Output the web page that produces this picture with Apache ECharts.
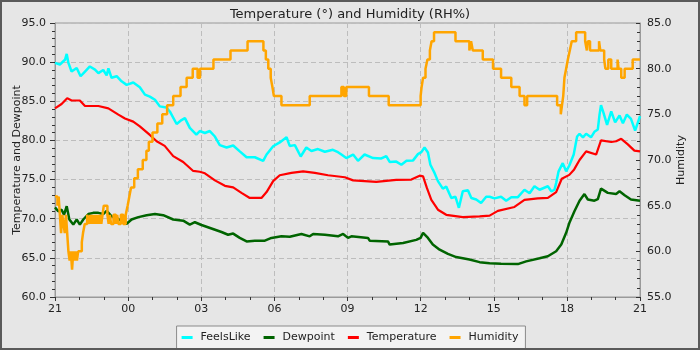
<!DOCTYPE html>
<html>
<head>
<meta charset="utf-8">
<script src="https://cdn.jsdelivr.net/npm/echarts@6/dist/echarts.min.js"></script>
<style>
  html, body { margin: 0; padding: 0; background: #e6e6e6; }
  #chart { position: absolute; left: 0; top: 0; width: 700px; height: 350px; }
  #frame { position: absolute; left: 0; top: 0; width: 700px; height: 350px; box-sizing: border-box; border: 2px solid #5a5a5a; pointer-events: none; }
</style>
</head>
<body>
<div id="chart"></div>
<div id="frame"></div>
<script>
// x values are hours since 21:00
const hourLabels = ['21', '00', '03', '06', '09', '12', '15', '18', '21'];

const feelsLike = [[0,89.9],[0.2,89.7],[0.41,90.3],[0.48,91.05],[0.55,89.9],[0.68,88.8],[0.89,89.25],[1.05,88.2],[1.23,88.8],[1.43,89.45],[1.64,89.05],[1.78,88.6],[1.98,89.0],[2.12,88.3],[2.19,89.2],[2.32,88.0],[2.53,88.2],[2.73,87.55],[2.94,87.1],[3.21,87.4],[3.48,86.8],[3.69,85.85],[3.89,85.6],[4.1,85.2],[4.3,84.35],[4.57,84.2],[4.71,83.7],[4.99,82.1],[5.19,82.6],[5.33,82.85],[5.53,81.6],[5.8,80.75],[5.94,81.2],[6.15,80.95],[6.35,81.2],[6.56,80.5],[6.76,79.4],[7.04,79.1],[7.31,79.35],[7.58,78.6],[7.86,77.85],[8.2,77.85],[8.54,77.4],[8.68,78.2],[8.95,79.25],[9.22,79.75],[9.5,80.4],[9.63,79.3],[9.84,79.4],[10.08,77.95],[10.31,79.1],[10.52,78.65],[10.79,78.9],[11.07,78.55],[11.4,78.8],[11.61,78.5],[11.75,78.2],[11.95,77.75],[12.23,78.2],[12.43,77.4],[12.7,78.2],[13.05,77.75],[13.39,77.7],[13.59,78.0],[13.73,77.25],[14.0,77.3],[14.21,76.9],[14.42,77.4],[14.69,77.45],[14.89,78.25],[15.03,78.5],[15.16,79.1],[15.3,78.45],[15.4,76.9],[15.57,75.85],[15.71,74.8],[15.91,73.85],[16.05,74.1],[16.26,72.65],[16.43,72.8],[16.57,71.4],[16.73,73.5],[16.94,73.65],[17.08,72.65],[17.28,72.45],[17.48,72.0],[17.69,72.8],[17.83,72.8],[18.03,72.6],[18.3,72.8],[18.51,72.3],[18.72,72.75],[18.99,72.75],[19.26,73.7],[19.47,73.25],[19.67,74.15],[19.88,73.7],[20.22,74.15],[20.36,73.5],[20.49,73.7],[20.56,74.55],[20.66,76.05],[20.83,77.1],[20.97,76.05],[21.1,76.8],[21.28,78.2],[21.42,80.5],[21.52,80.85],[21.66,80.4],[21.79,80.85],[21.99,80.4],[22.13,81.1],[22.27,81.4],[22.34,83.3],[22.4,84.5],[22.5,83.55],[22.65,82.0],[22.82,83.7],[22.98,82.3],[23.16,83.2],[23.3,82.2],[23.46,83.3],[23.63,82.75],[23.8,81.25],[24,83.1]];

const dewpoint = [[0,71.45],[0.13,70.95],[0.27,71.15],[0.37,70.5],[0.48,71.6],[0.59,69.9],[0.75,69.25],[0.89,69.9],[1.02,69.25],[1.16,69.9],[1.37,70.6],[1.57,70.75],[1.78,70.75],[1.98,70.6],[2.12,71.0],[2.32,70.3],[2.53,70.1],[2.73,69.7],[2.94,69.35],[3.14,69.9],[3.42,70.2],[3.76,70.45],[4.1,70.6],[4.44,70.45],[4.85,69.9],[5.26,69.75],[5.53,69.25],[5.74,69.55],[6.01,69.2],[6.42,68.75],[6.83,68.3],[7.1,67.95],[7.31,68.1],[7.58,67.55],[7.86,67.1],[8.2,67.2],[8.61,67.2],[8.88,67.55],[9.29,67.75],[9.63,67.7],[10.11,68.05],[10.45,67.75],[10.59,68.05],[11.07,67.95],[11.61,67.75],[11.82,68.05],[12.02,67.55],[12.16,67.75],[12.84,67.55],[12.91,67.2],[13.66,67.1],[13.73,66.7],[14.28,66.9],[14.82,67.3],[15.0,67.55],[15.1,68.2],[15.3,67.55],[15.5,66.7],[15.78,66.05],[16.12,65.5],[16.46,65.1],[17.0,64.8],[17.42,64.45],[17.83,64.3],[18.3,64.25],[18.99,64.2],[19.33,64.55],[19.88,64.95],[20.22,65.2],[20.56,65.85],[20.77,66.7],[20.97,68.2],[21.1,69.45],[21.31,70.95],[21.52,72.3],[21.72,73.15],[21.86,72.45],[22.13,72.3],[22.27,72.5],[22.4,73.85],[22.68,73.3],[23.02,73.15],[23.16,73.5],[23.37,73.0],[23.63,72.45],[24,72.3]];

const temperature = [[0,84.1],[0.27,84.65],[0.5,85.4],[0.68,85.1],[1.02,85.1],[1.23,84.4],[1.43,84.4],[1.78,84.4],[2.19,84.1],[2.6,83.3],[2.87,82.8],[3.21,82.4],[3.48,81.8],[3.89,80.7],[4.17,79.9],[4.5,79.3],[4.85,78.0],[5.26,77.25],[5.67,76.1],[5.94,76.0],[6.15,75.8],[6.56,74.9],[6.97,74.2],[7.31,74.0],[7.65,73.3],[7.99,72.65],[8.47,72.65],[8.68,73.4],[8.95,74.8],[9.22,75.55],[9.7,75.85],[10.18,76.05],[10.66,75.85],[11.2,75.55],[11.89,75.3],[12.23,74.9],[13.18,74.7],[14.0,74.95],[14.62,75.0],[14.96,75.5],[15.1,75.4],[15.26,73.9],[15.44,72.4],[15.71,71.15],[16.05,70.5],[16.73,70.2],[17.42,70.3],[17.83,70.4],[18.17,71.0],[18.85,71.5],[19.26,72.4],[19.81,72.6],[20.22,72.65],[20.56,73.4],[20.79,75.1],[21.1,75.6],[21.3,76.3],[21.52,77.5],[21.79,78.6],[22.2,78.2],[22.4,80.0],[22.82,79.8],[23.02,79.9],[23.23,80.2],[23.5,79.5],[23.77,78.7],[24,78.6]];

// humidity steps: value that starts at that hour
const humidity = [[0,66],[0.1,65],[0.15,66],[0.2,64],[0.25,62],[0.3,64],[0.35,63],[0.4,62],[0.45,64],[0.5,62],[0.55,60],[0.6,59],[0.65,60],[0.7,58],[0.75,60],[0.8,59],[0.85,60],[0.9,59],[0.95,60],[1.1,61],[1.15,62],[1.22,63],[1.32,64],[1.4,63],[1.45,64],[1.5,63],[1.55,64],[1.6,63],[1.65,64],[1.7,63],[1.75,64],[1.8,63],[1.85,64],[1.9,63],[1.95,64],[2.0,65],[2.15,64],[2.2,63],[2.25,64],[2.3,63],[2.4,64],[2.5,63],[2.55,64],[2.6,63],[2.7,64],[2.8,63],[2.9,64],[2.98,65],[3.05,66],[3.12,67],[3.25,68],[3.4,69],[3.6,70],[3.75,71],[3.85,72],[4.0,73],[4.2,74],[4.4,75],[4.6,76],[4.85,77],[5.15,78],[5.4,79],[5.65,80],[5.85,79],[5.95,80],[6.5,81],[7.2,82],[7.9,83],[8.55,82],[8.65,81],[8.75,80],[8.85,79],[8.92,78],[8.98,77],[9.29,76],[10.45,77],[11.75,78],[11.85,77],[11.95,78],[12.88,77],[13.69,76],[15.0,77],[15.04,78],[15.1,79],[15.2,80],[15.28,81],[15.38,82],[15.45,83],[15.55,84],[16.43,83],[17.0,82],[17.07,83],[17.14,82],[17.55,81],[17.97,80],[18.3,79],[18.72,78],[19.06,77],[19.26,76],[19.37,77],[20.6,76],[20.75,75],[20.8,76],[20.85,77],[20.9,79],[20.97,80],[21.04,81],[21.12,82],[21.2,83],[21.38,84],[21.75,83],[21.82,82],[21.86,83],[21.95,82],[22.32,83],[22.37,82],[22.53,81],[22.58,80],[22.7,81],[22.82,80],[23.08,81],[23.12,80],[23.23,79],[23.37,80],[23.7,81],[24,81]];

const chart = echarts.init(document.getElementById('chart'));
const font = 'DejaVu Sans';
const gridLine = { show: true, lineStyle: { color: '#bdbdbd', type: [5, 3], width: 1 } };

chart.setOption({
  animation: false,
  backgroundColor: '#e6e6e6',
  textStyle: { fontFamily: font },
  title: {
    text: 'Temperature (°) and Humidity (RH%)',
    left: 'center',
    top: 3,
    textStyle: { fontFamily: font, fontSize: 13, fontWeight: 'normal', color: '#222' }
  },
  legend: {
    left: 'center',
    top: 326,
    padding: [6, 7, 6, 5],
    itemGap: 13,
    itemWidth: 11,
    itemHeight: 3,
    icon: 'rect',
    backgroundColor: '#f3f3f3',
    borderColor: '#8a8a8a',
    borderWidth: 1,
    borderRadius: 0,
    textStyle: { fontFamily: font, fontSize: 11, color: '#222', padding: [0, 0, 0, 3] },
    data: ['FeelsLike', 'Dewpoint', 'Temperature', 'Humidity']
  },
  grid: {
    left: 55, right: 60, top: 23, bottom: 53,
    outerBoundsMode: 'none',
    containLabel: false,
    show: true, borderColor: '#9a9a9a', borderWidth: 1, backgroundColor: 'transparent'
  },
  xAxis: {
    type: 'value',
    min: 0, max: 24, interval: 3,
    axisLine: { lineStyle: { color: '#9a9a9a' } },
    axisTick: { length: 4, lineStyle: { color: '#333' } },
    minorTick: { show: true, splitNumber: 3, length: 3, lineStyle: { color: '#333' } },
    axisLabel: { margin: 7, fontSize: 11, color: '#222', formatter: v => hourLabels[Math.round(v / 3)] },
    splitLine: gridLine
  },
  yAxis: [{
    type: 'value',
    min: 60, max: 95, interval: 5,
    name: 'Temperature and Dewpoint',
    nameLocation: 'middle',
    nameGap: 32,
    nameMoveOverlap: false,
    nameTextStyle: { fontFamily: font, fontSize: 11, color: '#222' },
    axisLine: { show: true, lineStyle: { color: '#9a9a9a' } },
    axisTick: { show: true, length: 5, lineStyle: { color: '#333' } },
    minorTick: { show: true, splitNumber: 5, length: 3, lineStyle: { color: '#333' } },
    axisLabel: { margin: 9, fontSize: 11, color: '#222', formatter: v => v.toFixed(1) },
    splitLine: gridLine
  }, {
    type: 'value',
    min: 55, max: 85, interval: 5,
    name: 'Humidity',
    nameLocation: 'middle',
    nameGap: 36,
    nameMoveOverlap: false,
    nameRotate: 90,
    nameTextStyle: { fontFamily: font, fontSize: 11, color: '#222' },
    axisLine: { show: true, lineStyle: { color: '#9a9a9a' } },
    axisTick: { show: true, inside: true, length: 4, lineStyle: { color: '#333' } },
    minorTick: { show: true, splitNumber: 5, length: 3, lineStyle: { color: '#333' } },
    axisLabel: { margin: 7, fontSize: 11, color: '#222', formatter: v => v.toFixed(1) },
    splitLine: { show: false }
  }],
  series: [
    { name: 'FeelsLike', type: 'line', data: feelsLike, showSymbol: false, color: '#00ffff', lineStyle: { width: 2.5 } },
    { name: 'Dewpoint', type: 'line', data: dewpoint, showSymbol: false, color: '#006400', lineStyle: { width: 2.5 } },
    { name: 'Temperature', type: 'line', data: temperature, showSymbol: false, color: '#ff0000', lineStyle: { width: 2.2 } },
    { name: 'Humidity', type: 'line', yAxisIndex: 1, step: 'end', data: humidity, showSymbol: false, color: '#ffa500', lineStyle: { width: 2.5 } }
  ]
});
</script>
</body>
</html>
